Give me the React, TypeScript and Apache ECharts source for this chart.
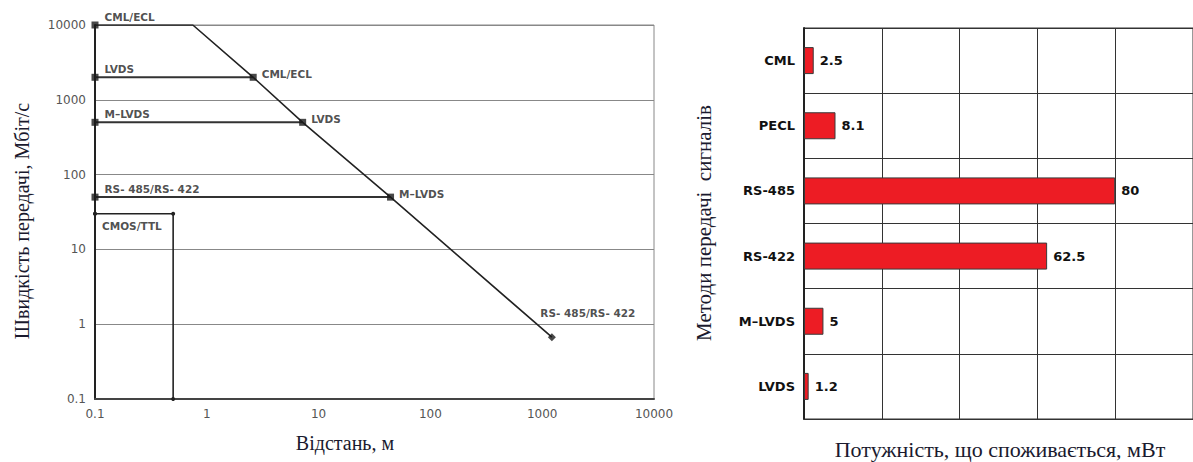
import React, { useEffect, useRef } from "react";
import * as echarts from "echarts";

// ---- Left chart data (distance in m, rate in Mbit/s) ----
const boundaryDist = [0.1, 0.75, 2.6, 7.2, 44, 1220];
const boundaryRate = [10000, 10000, 2000, 500, 50, 0.67];
const startNames = ["CML/ECL", "LVDS", "M–LVDS", "RS- 485/RS- 422"];
const startRates = [10000, 2000, 500, 50];
const endNames = ["CML/ECL", "LVDS", "M–LVDS", "RS- 485/RS- 422"];
const endDist = [2.6, 7.2, 44, 1220];
const endRates = [2000, 500, 50, 0.67];
const cmosDist = [0.1, 0.5, 0.5];
const cmosRate = [30, 30, 0.1];
const cmosName = "CMOS/TTL";

// ---- Right chart data ----
const methods = ["CML", "PECL", "RS-485", "RS-422", "M–LVDS", "LVDS"];
const power = [2.5, 8.1, 80, 62.5, 5, 1.2];

const BOLD = "DejaVu Sans";
const SERIF = "Liberation Serif";

export default function App() {
  const ref = useRef<HTMLDivElement>(null);
  useEffect(() => {
    document.body.style.margin = "0";
    const chart = echarts.init(ref.current!, null, { renderer: "svg" });
    const fmt = (v: number) => (v < 1 ? v.toFixed(1) : String(Math.round(v)));

    const hLines = startRates.slice(1).map((r, i) => ({
      type: "line",
      xAxisIndex: 0,
      yAxisIndex: 0,
      data: [
        [0.1, r],
        [endDist[i], r],
      ],
      symbol: "none",
      lineStyle: { color: "#333", width: 2 },
      z: 3,
    }));

    const option: any = {
      animation: false,
      grid: [
        { left: 95, top: 25, width: 559, height: 374, show: true, borderColor: "#888", borderWidth: 1 },
        { left: 804, top: 28, width: 389, height: 391, show: true, borderColor: "#333", borderWidth: 1 },
      ],
      xAxis: [
        {
          type: "log",
          gridIndex: 0,
          min: 0.1,
          max: 10000,
          logBase: 10,
          axisLine: { show: true, lineStyle: { color: "#444", width: 2 } },
          axisTick: { show: false },
          splitLine: { show: false },
          axisLabel: { formatter: fmt, color: "#555", fontFamily: "DejaVu Sans", fontSize: 12, margin: 9 },
        },
        {
          type: "value",
          gridIndex: 1,
          min: 0,
          max: 100,
          interval: 20,
          axisLine: { show: true, lineStyle: { color: "#333" } },
          axisTick: { show: false },
          axisLabel: { show: false },
          splitLine: { show: true, lineStyle: { color: "#333", width: 1 } },
        },
      ],
      yAxis: [
        {
          type: "log",
          gridIndex: 0,
          min: 0.1,
          max: 10000,
          logBase: 10,
          axisLine: { show: true, lineStyle: { color: "#222", width: 2 } },
          axisTick: { show: false },
          splitLine: { show: true, lineStyle: { color: "#888", width: 1 } },
          axisLabel: { formatter: fmt, color: "#555", fontFamily: "DejaVu Sans", fontSize: 12, margin: 9 },
        },
        {
          type: "category",
          gridIndex: 1,
          inverse: true,
          data: methods,
          axisLine: { show: true, lineStyle: { color: "#222", width: 2 } },
          axisTick: { show: false },
          splitLine: { show: true, lineStyle: { color: "#333", width: 1 } },
          axisLabel: { color: "#111", fontFamily: BOLD, fontWeight: "bold", fontSize: 13, margin: 9 },
        },
      ],
      series: [
        {
          type: "line",
          xAxisIndex: 0,
          yAxisIndex: 0,
          data: boundaryDist.map((d, i) => [d, boundaryRate[i]]),
          symbol: "none",
          lineStyle: { color: "#222", width: 1.6 },
          z: 4,
        },
        ...hLines,
        {
          type: "line",
          xAxisIndex: 0,
          yAxisIndex: 0,
          data: cmosDist.map((d, i) => [d, cmosRate[i]]),
          symbol: "circle",
          symbolSize: 4,
          itemStyle: { color: "#222" },
          lineStyle: { color: "#222", width: 1.6 },
          z: 4,
        },
        {
          type: "scatter",
          xAxisIndex: 0,
          yAxisIndex: 0,
          data: [
            {
              value: [0.1, cmosRate[0]],
              symbolSize: 4,
              label: {
                show: true,
                formatter: cmosName,
                position: "right",
                offset: [0, 12],
                color: "#222",
                fontFamily: BOLD,
                fontWeight: "bold",
                fontSize: 10.5,
              },
            },
          ],
          symbol: "circle",
          itemStyle: { color: "#222" },
          z: 5,
        },
        {
          type: "scatter",
          xAxisIndex: 0,
          yAxisIndex: 0,
          data: startRates.map((r, i) => ({ value: [0.1, r], name: startNames[i] })),
          symbol: "rect",
          symbolSize: 7,
          itemStyle: { color: "#1a1a1a" },
          label: {
            show: true,
            formatter: "{b}",
            position: "right",
            offset: [1, -8],
            color: "#222",
            fontFamily: BOLD,
            fontWeight: "bold",
            fontSize: 10.5,
          },
          z: 6,
        },
        {
          type: "scatter",
          xAxisIndex: 0,
          yAxisIndex: 0,
          data: endDist.map((d, i) =>
            i < 3
              ? { value: [d, endRates[i]], name: endNames[i] }
              : {
                  value: [d, endRates[i]],
                  name: endNames[i],
                  symbol: "diamond",
                  symbolSize: 8,
                  label: { position: "top", offset: [36, -10] },
                }
          ),
          symbol: "rect",
          symbolSize: 7,
          itemStyle: { color: "#1a1a1a" },
          label: {
            show: true,
            formatter: "{b}",
            position: "right",
            offset: [0, -3],
            color: "#222",
            fontFamily: BOLD,
            fontWeight: "bold",
            fontSize: 10.5,
          },
          z: 6,
        },
        {
          type: "bar",
          xAxisIndex: 1,
          yAxisIndex: 1,
          data: power,
          barWidth: 27,
          itemStyle: { color: "#ED1C24", borderColor: "#3a3a3a", borderWidth: 1 },
          label: {
            show: true,
            position: "right",
            distance: 6,
            color: "#111",
            fontFamily: BOLD,
            fontWeight: "bold",
            fontSize: 13,
          },
          z: 3,
        },
      ],
      graphic: [
        {
          type: "text",
          x: 345,
          y: 443,
          style: {
            text: "Відстань, м",
            font: `20px '${SERIF}'`,
            fill: "#1a1a2e",
            align: "center",
            verticalAlign: "middle",
          },
        },
        {
          type: "text",
          x: 22,
          y: 221,
          rotation: Math.PI / 2,
          style: {
            text: "Швидкість передачі, Мбіт/с",
            font: `20px '${SERIF}'`,
            fill: "#1a1a2e",
            align: "center",
            verticalAlign: "middle",
          },
        },
        {
          type: "text",
          x: 1000,
          y: 449,
          style: {
            text: "Потужність, що споживається, мВт",
            font: `22px '${SERIF}'`,
            fill: "#1a1a2e",
            align: "center",
            verticalAlign: "middle",
          },
        },
        {
          type: "text",
          x: 704,
          y: 223,
          rotation: Math.PI / 2,
          style: {
            text: "Методи передачі  сигналів",
            font: `21px '${SERIF}'`,
            fill: "#1a1a2e",
            align: "center",
            verticalAlign: "middle",
          },
        },
      ],
    };
    chart.setOption(option);
    return () => chart.dispose();
  }, []);
  return <div ref={ref} style={{ width: 1193, height: 462 }} />;
}
